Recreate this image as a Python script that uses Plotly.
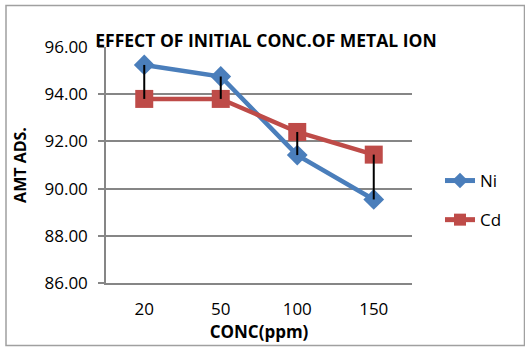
import plotly.graph_objects as go

categories = ["20", "50", "100", "150"]
ni_values = [95.24, 94.75, 91.42, 89.54]
cd_values = [93.80, 93.80, 92.40, 91.44]
series_names = ["Ni", "Cd"]
y_ticks = [86, 88, 90, 92, 94, 96]

BLUE = "#4A7EBB"
RED = "#BE4B48"
GRID = "#868686"
FONT = "Open Sans"

# high-low lines built from the series values
hl_x, hl_y = [], []
for c, a, b in zip(categories, ni_values, cd_values):
    hl_x += [c, c, None]
    hl_y += [max(a, b), min(a, b), None]

fig = go.Figure()
fig.add_trace(go.Scatter(
    x=categories, y=ni_values, name=series_names[0], mode="lines+markers",
    line=dict(color=BLUE, width=4.5),
    marker=dict(symbol="diamond", size=16, color=BLUE),
    legendgroup="a"))
fig.add_trace(go.Scatter(
    x=categories, y=cd_values, name=series_names[1], mode="lines+markers",
    line=dict(color=RED, width=4.5),
    marker=dict(symbol="square", size=18, color=RED),
    legendgroup="b"))
fig.add_trace(go.Scatter(
    x=hl_x, y=hl_y, mode="lines", line=dict(color="black", width=2),
    showlegend=False, hoverinfo="skip"))

L, R, T, B = 106, 113, 47, 64
W, H = 525, 347
pw, ph = W - L - R, H - T - B

def px_x(p):
    return (p - L) / pw

def px_y(p):
    return (H - B - p) / ph

fig.update_layout(
    width=W, height=H,
    margin=dict(l=L, r=R, t=T, b=B),
    paper_bgcolor="white", plot_bgcolor="white",
    font=dict(family=FONT, size=17, color="black"),
    title=dict(text="<b>EFFECT OF INITIAL CONC.OF METAL ION</b>",
               font=dict(family=FONT, size=17.5, color="black"),
               x=px_x(266), xref="paper", xanchor="center",
               y=1 - 41 / H, yref="container", yanchor="middle"),
    showlegend=True,
    legend=dict(x=px_x(440), xanchor="left", y=px_y(163), yanchor="top",
                font=dict(family=FONT, size=17, color="black"),
                tracegroupgap=14, itemsizing="constant",
                bgcolor="rgba(0,0,0,0)"),
    xaxis=dict(type="category", range=[-0.5, 3.5], showgrid=False,
               showline=True, linecolor=GRID, linewidth=1.5,
               ticks="", ticklabelstandoff=10,
               title=dict(text="<b>CONC(ppm)</b>", standoff=3,
                          font=dict(family=FONT, size=17, color="black"))),
    yaxis=dict(range=[86, 96], tickvals=y_ticks, tickformat=".2f",
               showgrid=True, gridcolor=GRID, gridwidth=1.5,
               showline=True, linecolor=GRID, linewidth=1.5,
               ticks="outside", ticklen=6, tickcolor=GRID, tickwidth=1.5,
               zeroline=False, ticklabelstandoff=7,
               title=dict(text="<b>AMT ADS.</b>", standoff=14,
                          font=dict(family=FONT, size=16, color="black"))),
    shapes=[dict(type="rect", xref="paper", yref="paper",
                 x0=px_x(6), x1=px_x(524.5), y0=px_y(345.5), y1=px_y(5.5),
                 line=dict(color="#A0A0A0", width=1.5), layer="below")],
)

fig.write_html("out.html")
